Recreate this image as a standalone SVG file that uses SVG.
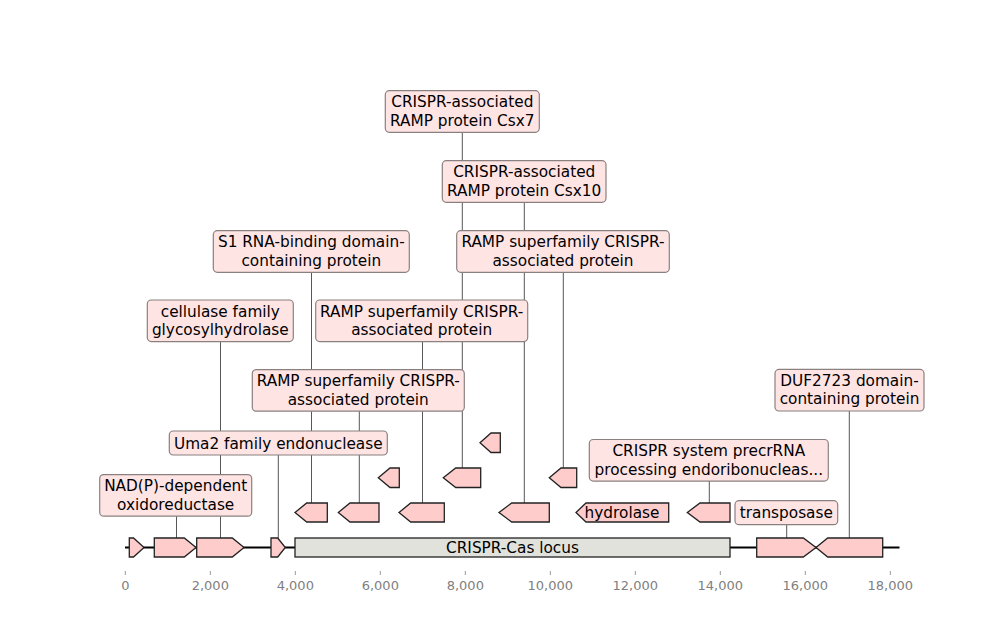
<svg xmlns="http://www.w3.org/2000/svg" width="1000" height="640" viewBox="0 0 1000 640">
<style>
text{font-family:"DejaVu Sans","Liberation Sans",sans-serif;fill:#000}
.lbl{font-size:15.3px;text-anchor:middle}
.box{fill:#ffe4e4;stroke:#8a8080;stroke-width:1.2}
.feat{fill:#ffcccc;stroke:#222;stroke-width:1.3;stroke-linejoin:miter}
.locus{fill:#e2e2dc;stroke:#222;stroke-width:1.3}
.conn line{stroke:#444;stroke-width:0.9}
.tick{stroke:#999;stroke-width:1}
.tl{font-size:13px;fill:#808080;text-anchor:middle}
</style>
<rect width="1000" height="640" fill="#fff"/>
<g id="connectors" class="conn">
<line x1="176.5" y1="538" x2="176.5" y2="516"/>
<line x1="220.5" y1="538" x2="220.5" y2="341.7"/>
<line x1="278.3" y1="538" x2="278.3" y2="455"/>
<line x1="786.7" y1="538" x2="786.7" y2="524.7"/>
<line x1="849.3" y1="538" x2="849.3" y2="411"/>
<line x1="311.5" y1="503" x2="311.5" y2="272.3"/>
<line x1="359.3" y1="503" x2="359.3" y2="411"/>
<line x1="422.5" y1="503" x2="422.5" y2="341.7"/>
<line x1="524.3" y1="503" x2="524.3" y2="202.3"/>
<line x1="709.3" y1="503" x2="709.3" y2="480.7"/>
<line x1="462.3" y1="468" x2="462.3" y2="132.3"/>
<line x1="563.3" y1="468" x2="563.3" y2="272.3"/>
</g>
<g id="axis">
<line x1="125" y1="547.5" x2="899.5" y2="547.5" stroke="#000" stroke-width="2"/>
<g class="tick">
<line x1="125.3" y1="571" x2="125.3" y2="575"/>
<line x1="210.3" y1="571" x2="210.3" y2="575"/>
<line x1="295.3" y1="571" x2="295.3" y2="575"/>
<line x1="380.3" y1="571" x2="380.3" y2="575"/>
<line x1="465.3" y1="571" x2="465.3" y2="575"/>
<line x1="550.3" y1="571" x2="550.3" y2="575"/>
<line x1="635.3" y1="571" x2="635.3" y2="575"/>
<line x1="720.3" y1="571" x2="720.3" y2="575"/>
<line x1="805.3" y1="571" x2="805.3" y2="575"/>
<line x1="890.3" y1="571" x2="890.3" y2="575"/>
</g>
<text class="tl" x="125.3" y="590">0</text>
<text class="tl" x="210.3" y="590">2,000</text>
<text class="tl" x="295.3" y="590">4,000</text>
<text class="tl" x="380.3" y="590">6,000</text>
<text class="tl" x="465.3" y="590">8,000</text>
<text class="tl" x="550.3" y="590">10,000</text>
<text class="tl" x="635.3" y="590">12,000</text>
<text class="tl" x="720.3" y="590">14,000</text>
<text class="tl" x="805.3" y="590">16,000</text>
<text class="tl" x="890.3" y="590">18,000</text>
</g>
<g id="f1"><polygon class="feat" points="129.3,538 133.5,538 144,547.5 133.5,557 129.3,557"/></g>
<g id="f2"><polygon class="feat" points="154.3,538 184.3,538 196,547.5 184.3,557 154.3,557"/></g>
<g id="f3"><polygon class="feat" points="196.7,538 232.3,538 244,547.5 232.3,557 196.7,557"/></g>
<g id="f4"><polygon class="feat" points="271,538 277.7,538 285.3,547.5 277.7,557 271,557"/></g>
<g id="locus"><rect class="locus" x="295" y="538" width="435" height="19"/><text class="lbl" x="512.5" y="553">CRISPR-Cas locus</text></g>
<g id="f6"><polygon class="feat" points="756.7,538 803.3,538 816,547.5 803.3,557 756.7,557"/></g>
<g id="f7"><polygon class="feat" points="816,547.5 827.7,538 882.7,538 882.7,557 827.7,557"/></g>
<g id="f8"><polygon class="feat" points="295,512.5 306.7,503 327.3,503 327.3,522 306.7,522"/></g>
<g id="f9"><polygon class="feat" points="338.3,512.5 350,503 379,503 379,522 350,522"/></g>
<g id="f10"><polygon class="feat" points="399,512.5 410.7,503 444.3,503 444.3,522 410.7,522"/></g>
<g id="f11"><polygon class="feat" points="499,512.5 511.7,503 549.3,503 549.3,522 511.7,522"/></g>
<g id="f12"><polygon class="feat" points="576,512.5 586,503 668.7,503 668.7,522 586,522"/><text class="lbl" x="622" y="518">hydrolase</text></g>
<g id="f13"><polygon class="feat" points="687.3,512.5 700,503 730,503 730,522 700,522"/></g>
<g id="f14"><polygon class="feat" points="378.3,477.7 390,468 399.3,468 399.3,487.5 390,487.5"/></g>
<g id="f15"><polygon class="feat" points="443.3,477.7 455.7,468 480.7,468 480.7,487.5 455.7,487.5"/></g>
<g id="f16"><polygon class="feat" points="549.3,477.7 561,468 576.7,468 576.7,487.5 561,487.5"/></g>
<g id="f17"><polygon class="feat" points="480,442.7 491,433 500.3,433 500.3,452.5 491,452.5"/></g>
<g id="lab-csx7"><rect class="box" x="385.3" y="90.7" width="154" height="41.6" rx="4"/><text class="lbl" x="462.3" y="107.4">CRISPR-associated</text><text class="lbl" x="462.3" y="125.7">RAMP protein Csx7</text></g>
<g id="lab-csx10"><rect class="box" x="442.3" y="160.7" width="163.7" height="41.6" rx="4"/><text class="lbl" x="524.2" y="177.4">CRISPR-associated</text><text class="lbl" x="524.2" y="195.7">RAMP protein Csx10</text></g>
<g id="lab-s1"><rect class="box" x="213.3" y="230.7" width="196" height="41.6" rx="4"/><text class="lbl" x="311.3" y="247.4">S1 RNA-binding domain-</text><text class="lbl" x="311.3" y="265.7">containing protein</text></g>
<g id="lab-ramp1"><rect class="box" x="456.7" y="230.7" width="212.6" height="41.6" rx="4"/><text class="lbl" x="563" y="247.4">RAMP superfamily CRISPR-</text><text class="lbl" x="563" y="265.7">associated protein</text></g>
<g id="lab-cell"><rect class="box" x="147.3" y="300" width="146" height="41.6" rx="4"/><text class="lbl" x="220.3" y="316.7">cellulase family</text><text class="lbl" x="220.3" y="335">glycosylhydrolase</text></g>
<g id="lab-ramp2"><rect class="box" x="315.7" y="300" width="212" height="41.6" rx="4"/><text class="lbl" x="421.7" y="316.7">RAMP superfamily CRISPR-</text><text class="lbl" x="421.7" y="335">associated protein</text></g>
<g id="lab-ramp3"><rect class="box" x="252.3" y="369.6" width="212" height="41.6" rx="4"/><text class="lbl" x="358.3" y="386.3">RAMP superfamily CRISPR-</text><text class="lbl" x="358.3" y="404.6">associated protein</text></g>
<g id="lab-duf"><rect class="box" x="775" y="369.4" width="149" height="41.6" rx="4"/><text class="lbl" x="849.5" y="386.1">DUF2723 domain-</text><text class="lbl" x="849.5" y="404.4">containing protein</text></g>
<g id="lab-uma2"><rect class="box" x="169.3" y="431" width="218" height="24" rx="4"/><text class="lbl" x="278.3" y="448.5">Uma2 family endonuclease</text></g>
<g id="lab-crispr"><rect class="box" x="589.3" y="439.5" width="239" height="41.6" rx="4"/><text class="lbl" x="708.8" y="456.2">CRISPR system precrRNA</text><text class="lbl" x="708.8" y="474.5">processing endoribonucleas...</text></g>
<g id="lab-nad"><rect class="box" x="99.7" y="474.6" width="152" height="41.6" rx="4"/><text class="lbl" x="175.7" y="491.3">NAD(P)-dependent</text><text class="lbl" x="175.7" y="509.6">oxidoreductase</text></g>
<g id="lab-trans"><rect class="box" x="735" y="500.7" width="102.7" height="24" rx="4"/><text class="lbl" x="786.3" y="518.2">transposase</text></g>
</svg>
